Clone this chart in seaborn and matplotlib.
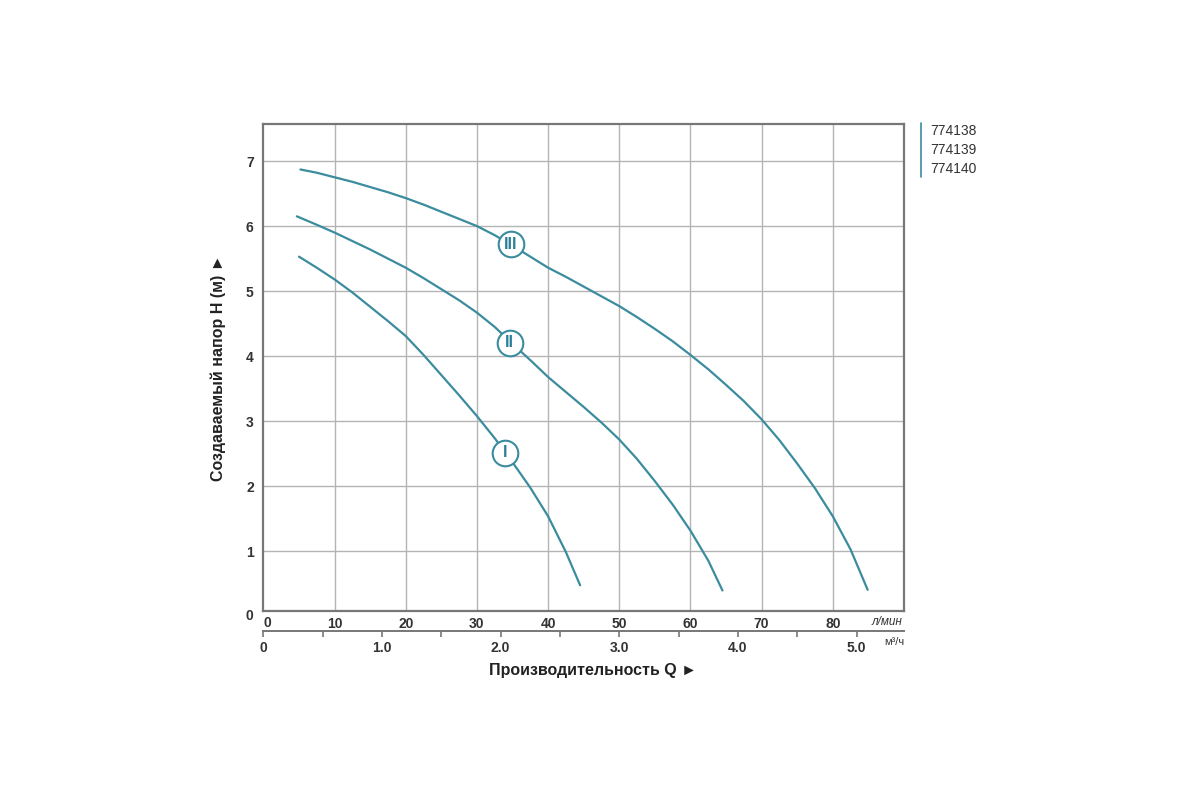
import numpy as np
import pandas as pd
import matplotlib
matplotlib.use('Agg')
import matplotlib.pyplot as plt
import matplotlib.transforms as mtransforms
import seaborn as sns

# Кривые насосов: расход Q (л/мин) и напор H (м)
q_1 = [5.0, 7.5, 10, 12.5, 15, 17.5, 20, 22.5, 25, 27.5, 30, 32.5, 35, 37.5, 40, 42.5, 44.5]
h_1 = [5.53, 5.36, 5.18, 4.98, 4.76, 4.54, 4.31, 4.02, 3.71, 3.40, 3.08, 2.74, 2.37, 1.98, 1.54, 0.99, 0.48]

q_2 = [4.7, 7.5, 10, 12.5, 15, 17.5, 20, 22.5, 25, 27.5, 30, 32.5, 35, 37.5, 40, 42.5,
       45, 47.5, 50, 52.5, 55, 57.5, 60, 62.5, 64.5]
h_2 = [6.15, 6.02, 5.90, 5.77, 5.64, 5.50, 5.36, 5.20, 5.03, 4.86, 4.67, 4.45, 4.19, 3.94, 3.68, 3.45,
       3.22, 2.98, 2.72, 2.42, 2.08, 1.72, 1.32, 0.86, 0.40]

q_3 = [5.2, 7.5, 10, 12.5, 15, 17.5, 20, 22.5, 25, 27.5, 30, 32.5, 35, 37.5, 40, 42.5,
       45, 47.5, 50, 52.5, 55, 57.5, 60, 62.5, 65, 67.5, 70, 72.5, 75, 77.5, 80, 82.5, 84.9]
h_3 = [6.87, 6.82, 6.75, 6.68, 6.60, 6.52, 6.43, 6.33, 6.22, 6.11, 6.00, 5.86, 5.70, 5.53, 5.36, 5.22,
       5.07, 4.92, 4.77, 4.60, 4.42, 4.23, 4.02, 3.80, 3.56, 3.31, 3.03, 2.71, 2.35, 1.97, 1.54, 1.03, 0.41]

curve_names = ['I', 'II', 'III']
label_q = [34.0, 34.6, 34.8]
label_h = [2.52, 4.21, 5.72]

models = ['774138', '774139', '774140']
x_ticks = [10, 20, 30, 40, 50, 60, 70, 80]
y_ticks = [1, 2, 3, 4, 5, 6, 7]
m3h_ticks = [0, 1, 2, 3, 4, 5]
m3h_labels = ['0', '1.0', '2.0', '3.0', '4.0', '5.0']

df = pd.concat([
    pd.DataFrame({'Q': q_1, 'H': h_1, 'curve': 'I'}),
    pd.DataFrame({'Q': q_2, 'H': h_2, 'curve': 'II'}),
    pd.DataFrame({'Q': q_3, 'H': h_3, 'curve': 'III'}),
])

sns.set_style('white')
plt.rcParams['font.family'] = ['Liberation Sans', 'DejaVu Sans']

teal = '#3b8c9e'
txt = '#333333'

fig = plt.figure(figsize=(12, 8), dpi=100)
ax = fig.add_axes([0.2195, 0.2363, 0.5338, 0.6088])

sns.lineplot(data=df, x='Q', y='H', units='curve', estimator=None, sort=False,
             color=teal, lw=1.6, ax=ax)

# маркеры кривых
ax.scatter(label_q, label_h, s=340, facecolor='white', edgecolor=teal,
           linewidth=1.5, zorder=5)
for n, qx, hy in zip(curve_names, label_q, label_h):
    ax.text(qx, hy, n, ha='center', va='center', color='#2c7f99',
            fontsize=11.5, fontweight='bold', zorder=6)

ax.set_xlim(0, 90)
ax.set_ylim(0.085, 7.57)
ax.set_xticks(x_ticks)
ax.set_yticks(y_ticks)
ax.grid(True, color='#b4b4b4', lw=1)
for s in ax.spines.values():
    s.set_color('#777777')
    s.set_linewidth(1.6)
ax.tick_params(axis='both', length=0, labelsize=10, labelcolor=txt)
ax.tick_params(axis='x', pad=4)
ax.tick_params(axis='y', pad=7)
for lab in ax.get_xticklabels() + ax.get_yticklabels():
    lab.set_fontweight('bold')
ax.set_xlabel('')
ax.set_ylabel('Создаваемый напор H (м) ►', fontsize=11.5, fontweight='bold',
              color='#222222', labelpad=14)

# нули в углу
ytr = mtransforms.blended_transform_factory(ax.transAxes, ax.transData)
ax.text(-0.016, 0.0, '0', transform=ytr, ha='right', va='center', fontsize=10,
        fontweight='bold', color=txt, clip_on=False)
ax.text(0.0, -0.025, '0', transform=mtransforms.blended_transform_factory(ax.transData, ax.transAxes),
        ha='left', va='center', fontsize=10, fontweight='bold', color=txt, clip_on=False)
ax.text(0.998, -0.022, 'л/мин', transform=ax.transAxes, ha='right', va='center',
        fontsize=8.5, color=txt, style='italic', clip_on=False)

# вторая шкала: м³/ч
sec = ax.secondary_xaxis(-0.041, functions=(lambda x: x * 0.06, lambda x: x / 0.06))
sec.set_xticks(m3h_ticks)
sec.set_xticklabels(m3h_labels)
sec.set_xticks(np.arange(0.5, 5.5, 1.0), minor=True)
sec.spines['bottom'].set_color('#777777')
sec.spines['bottom'].set_linewidth(1.4)
sec.tick_params(axis='x', which='both', direction='out', length=4, width=1.2,
                color='#777777', labelsize=10, labelcolor=txt, pad=3)
for lab in sec.get_xticklabels():
    lab.set_fontweight('bold')
ax.text(1.0, -0.063, 'м³/ч', transform=ax.transAxes, ha='right', va='center',
        fontsize=8, color=txt, clip_on=False)

fig.text(0.494, 0.1625, 'Производительность Q ►', ha='center', va='center',
         fontsize=11.5, fontweight='bold', color='#222222')

# легенда моделей
fig.add_artist(plt.Line2D([0.7675, 0.7675], [0.779, 0.846], color=teal, lw=1.2))
for i, m in enumerate(models):
    fig.text(0.775, 0.836 - i * 0.0235, m, ha='left', va='center',
             fontsize=10, color=txt)

fig.savefig('out.png', dpi=100)
